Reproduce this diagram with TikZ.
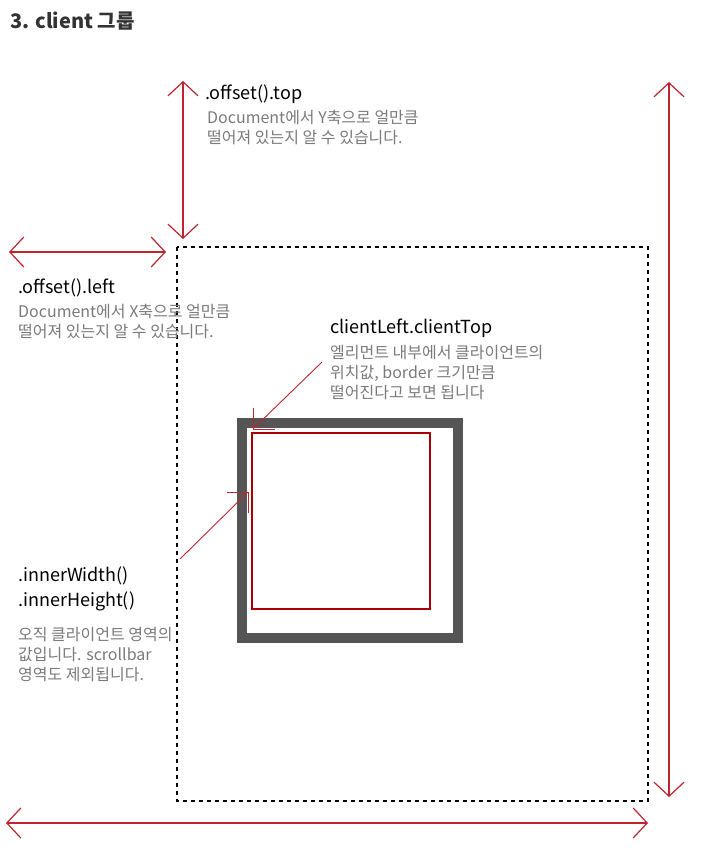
\documentclass[tikz,border=0pt]{standalone}
\usepackage{fontspec}
\setmainfont{Noto Sans CJK KR}
\usetikzlibrary{arrows.meta}
\definecolor{arrowred}{HTML}{C0242C}
\definecolor{boxred}{HTML}{A80000}
\definecolor{bordergray}{HTML}{555555}
\definecolor{notegray}{HTML}{7A7A7A}
\definecolor{titlegray}{HTML}{333333}
\tikzset{
  redarrow/.style={draw=arrowred, line width=1.4pt,
    {Straight Barb[length=14pt,width=30pt,line width=1.2pt]}-{Straight Barb[length=14pt,width=30pt,line width=1.2pt]}},
  pointer/.style={draw=arrowred, line width=0.9pt},
  heading/.style={anchor=base west, inner sep=0pt, font=\fontsize{18}{21}\selectfont, text=black},
  note/.style={anchor=base west, inner sep=0pt, font=\fontsize{16}{20}\selectfont, text=notegray},
  titletext/.style={anchor=base west, inner sep=0pt, font=\fontsize{20}{23}\selectfont\bfseries, text=titlegray},
}
\begin{document}
\begin{tikzpicture}[x=1pt,y=-1pt]
\useasboundingbox (0,0) rectangle (708,853);
% title
\node[titletext] (title) at (10,29) {3. client 그룹};

% dashed document box
\draw[black, line width=1.3pt, dash pattern=on 4pt off 4pt] (177,247) rectangle (648,801);

% element border and client area
\draw[bordergray, line width=10pt] (242,423) rectangle (458,638);
\draw[boxred, line width=2pt] (252,433) rectangle (430,609);

% coordinates for arrows
\coordinate (topA) at (183,81);
\coordinate (topB) at (183,239);
\coordinate (leftA) at (9,252);
\coordinate (leftB) at (166,252);
\coordinate (rightA) at (669,82);
\coordinate (rightB) at (669,797);
\coordinate (botA) at (6,823);
\coordinate (botB) at (648,823);

\draw[redarrow] (topA) -- (topB);
\draw[redarrow] (leftA) -- (leftB);
\draw[redarrow] (rightA) -- (rightB);
\draw[redarrow] (botA) -- (botB);

% texts
\node[heading] (offtop) at (205,100) {.offset().top};
\node[note] (offtop1) at (207,124) {Document에서 Y축으로 얼만큼};
\node[note] (offtop2) at (207,144) {떨어져 있는지 알 수 있습니다.};

\node[heading] (offleft) at (18,293) {.offset().left};
\node[note] (offleft1) at (18,317) {Document에서 X축으로 얼만큼};
\node[note] (offleft2) at (18,337) {떨어져 있는지 알 수 있습니다.};

\node[heading] (client) at (330,333) {clientLeft.clientTop};
\node[note] (client1) at (330,358) {엘리먼트 내부에서 클라이언트의};
\node[note] (client2) at (330,378) {위치값, border 크기만큼};
\node[note] (client3) at (330,398) {떨어진다고 보면 됩니다};

\node[heading] (innerw) at (18,581) {.innerWidth()};
\node[heading] (innerh) at (18,606) {.innerHeight()};
\node[note] (inner1) at (18,640) {오직 클라이언트 영역의};
\node[note] (inner2) at (18,660) {값입니다. scrollbar};
\node[note] (inner3) at (18,680) {영역도 제외됩니다.};

% pointer: clientLeft/clientTop
\coordinate (cpFrom) at (322,362);
\coordinate (cpTip) at (253,429);
\coordinate (cpV) at (253,408);
\coordinate (cpH) at (275,429);
\draw[pointer] (cpFrom) -- (cpTip);
\draw[pointer] (cpV) -- (cpTip) -- (cpH);

% pointer: innerWidth/innerHeight
\coordinate (ipFrom) at (180,559);
\coordinate (ipTip) at (248,492);
\coordinate (ipH) at (227,492);
\coordinate (ipV) at (248,513);
\draw[pointer] (ipFrom) -- (ipTip);
\draw[pointer] (ipH) -- (ipTip) -- (ipV);
\end{tikzpicture}
\end{document}
